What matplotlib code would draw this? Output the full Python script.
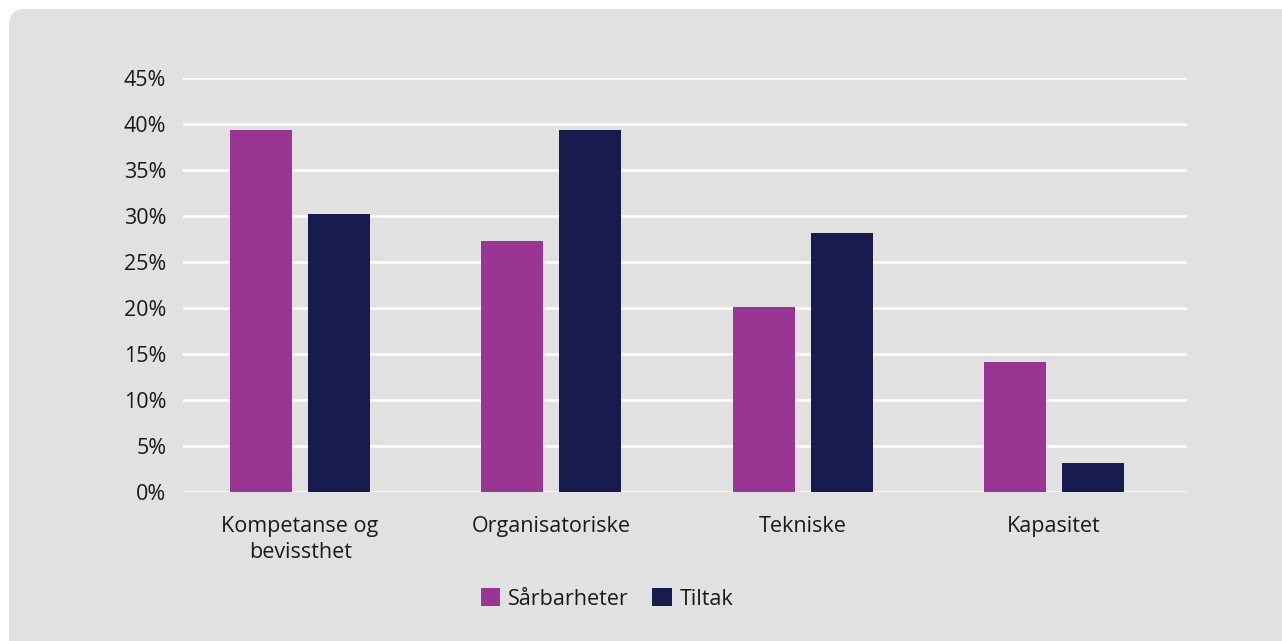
import numpy as np
import matplotlib.pyplot as plt
from matplotlib.patches import FancyBboxPatch, Patch

# Data -------------------------------------------------------------------------
categories = ["Kompetanse og\nbevissthet", "Organisatoriske", "Tekniske", "Kapasitet"]
sarbarheter = [39.3, 27.3, 20.1, 14.1]
tiltak = [30.2, 39.4, 28.2, 3.1]
series_names = ["Sårbarheter", "Tiltak"]
yticks = [0, 5, 10, 15, 20, 25, 30, 35, 40, 45]

PURPLE = "#993593"
NAVY = "#181b4e"
PANEL = "#e0e1e0"
TEXT = "#1a1a1a"
FS = 15.5

plt.rcParams["font.family"] = ["Open Sans", "DejaVu Sans"]

fig = plt.figure(figsize=(12.82, 6.41), dpi=100)
fig.patch.set_facecolor("white")

# rounded grey panel behind the chart (pixel coordinates)
panel = FancyBboxPatch(
    (9, -40), 1320, 672,
    boxstyle="round,pad=0,rounding_size=16",
    transform=None, facecolor=PANEL, edgecolor="none", zorder=-10,
)
fig.patches.append(panel)

ax = fig.add_axes([183 / 1282, 1 - 492 / 641, (1187 - 183) / 1282, (492 - 78) / 641])
ax.set_facecolor("none")
ax.set_zorder(1)

x = np.arange(len(categories))
width = 0.247
offset = 0.155
ax.bar(x - offset, sarbarheter, width, color=PURPLE, zorder=3)
ax.bar(x + offset, tiltak, width, color=NAVY, zorder=3)

ax.set_xlim(-0.466, 3.53)
ax.set_ylim(0, 45)
ax.set_yticks(yticks)
ax.set_yticklabels([f"{t}%" for t in yticks])
ax.set_xticks(x)
ax.set_xticklabels(categories, linespacing=1.32)

ax.grid(axis="y", color="white", linewidth=1.8, zorder=1)
ax.set_axisbelow(True)
ax.tick_params(axis="both", length=0, labelsize=FS, labelcolor=TEXT)
ax.tick_params(axis="y", pad=12)
ax.tick_params(axis="x", pad=17)
for s in ax.spines.values():
    s.set_visible(False)

handles = [Patch(facecolor=PURPLE), Patch(facecolor=NAVY)]
leg = fig.legend(
    handles, series_names,
    loc="center", bbox_to_anchor=(607 / 1282, 1 - 599 / 641),
    ncol=2, frameon=False, fontsize=FS, labelcolor=TEXT,
    handlelength=0.9, handleheight=0.9, handletextpad=0.35, columnspacing=1.1,
)
leg.set_zorder(2)

fig.savefig("out.png", dpi=100, facecolor=fig.get_facecolor())
